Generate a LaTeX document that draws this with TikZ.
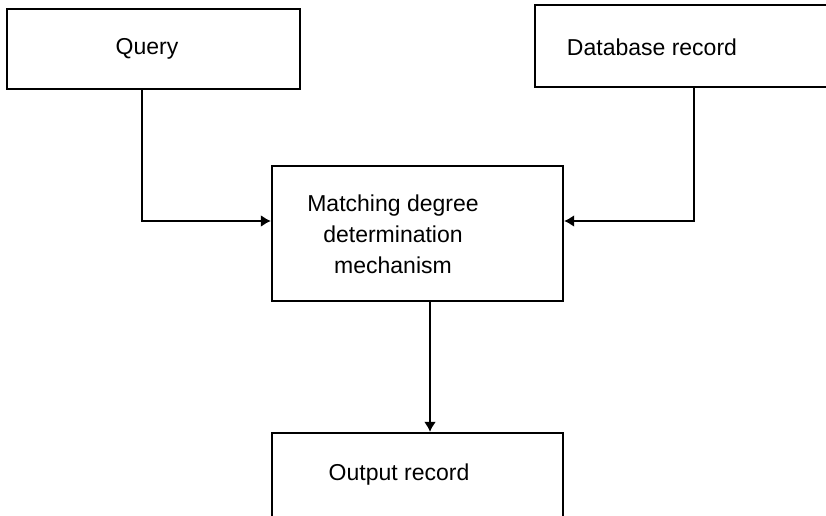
\documentclass[tikz,border=0pt]{standalone}
\usepackage{fontspec}
\setmainfont{Liberation Sans}
\usetikzlibrary{arrows.meta}
\begin{document}
\begin{tikzpicture}[x=1pt,y=1pt,
  box/.style={draw=black, line width=2.2pt, rectangle, inner sep=0pt},
  lbl/.style={font=\fontsize{23}{31}\selectfont, align=center, inner sep=0pt},
  arr/.style={draw=black, line width=2.2pt, -{Latex[length=10pt,width=12pt]}}]
\useasboundingbox (0,0) rectangle (826,515);
\clip (0,0) rectangle (826,515);
\fill[white] (0,0) rectangle (826,515);
% boxes
\node[box, minimum width=293pt, minimum height=80pt] (query) at (153.5,466) {};
\node[box, minimum width=305pt, minimum height=82pt] (db) at (687.5,469) {};
\node[box, minimum width=291pt, minimum height=135pt] (match) at (417.5,281.5) {};
\node[box, minimum width=291pt, minimum height=97pt] (out) at (417.5,33.5) {};
% labels
\node[lbl] (tq) at (147,466) {Query};
\node[lbl] (tdb) at (652,468) {Database record};
\node[lbl] (tm) at (393,281) {Matching degree\\determination\\mechanism};
\node[lbl] (to) at (399,40) {Output record};
% connectors
\draw[arr] (query.south -| 142,0) |- (match.west |- 0,294);
\draw[arr] (db.south -| 694,0) |- (match.east |- 0,294);
\draw[arr] (match.south -| 430,0) -- (out.north -| 430,0);
\end{tikzpicture}
\end{document}
